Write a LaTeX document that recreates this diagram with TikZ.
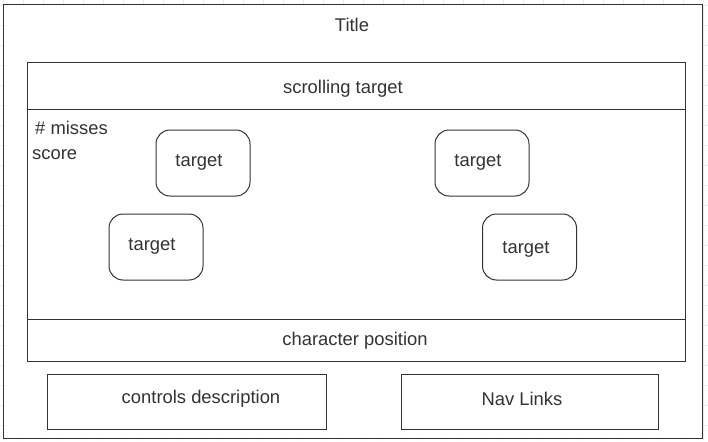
\documentclass[tikz,border=0pt]{standalone}
\usepackage{fontspec}
\setmainfont{Liberation Sans}
\definecolor{ink}{HTML}{333333}
\definecolor{gridline}{HTML}{EDEDED}
\tikzset{
   panel/.style={draw=ink, line width=1pt, fill=white, inner sep=0pt},
   target/.style={draw=ink, line width=1pt, fill=white, inner sep=0pt,
      rounded corners=14pt, minimum width=94pt, minimum height=66pt},
   caption/.style={text=ink, inner sep=0pt, font=\fontsize{18.4}{22}\selectfont},
}
\begin{document}
\begin{tikzpicture}[x=1pt, y=-1pt]
   \useasboundingbox (0, 0) rectangle (708, 441);
   % background grid
   \foreach \x in {3, 23, ..., 703} {
      \draw[gridline, line width=0.6pt] (\x, 0) -- (\x, 441);
   }
   \foreach \y in {5, 25, ..., 441} {
      \draw[gridline, line width=0.6pt] (0, \y) -- (708, \y);
   }
   % page frame
   \node[panel, minimum width=699pt, minimum height=433pt] (page) at (352.5, 221.5) {};
   \node[caption] (title) at (352, 25) {Title};
   % game area
   \node[panel, minimum width=658pt, minimum height=298pt] (game) at (356, 212) {};
   \coordinate (scrollL) at (27, 109);
   \coordinate (scrollR) at (685, 109);
   \coordinate (charL) at (27, 319);
   \coordinate (charR) at (685, 319);
   \draw[ink, line width=1pt] (scrollL) -- (scrollR);
   \draw[ink, line width=1pt] (charL) -- (charR);
   \node[caption] (scrolling) at (343, 89) {scrolling target};
   \node[caption] (charpos) at (355, 341) {character position};
   \node[caption, anchor=west] (misses) at (35, 128) {\# misses};
   \node[caption, anchor=west] (score) at (32, 155) {score};
   % targets
   \node[target] (t1) at (203, 163) {};
   \node[target] (t2) at (156, 247) {};
   \node[target] (t3) at (482, 163) {};
   \node[target] (t4) at (529.5, 247) {};
   \node[caption] at (199, 162) {target};
   \node[caption] at (152, 246) {target};
   \node[caption] at (478, 162) {target};
   \node[caption] at (526, 249) {target};
   % bottom boxes
   \node[panel, minimum width=279pt, minimum height=55pt] (controls) at (186.5, 401.5) {};
   \node[panel, minimum width=257pt, minimum height=55pt] (nav) at (529.5, 401.5) {};
   \node[caption] (controlstext) at (201, 399) {controls description};
   \node[caption] (navtext) at (522, 399) {Nav Links};
\end{tikzpicture}
\end{document}
